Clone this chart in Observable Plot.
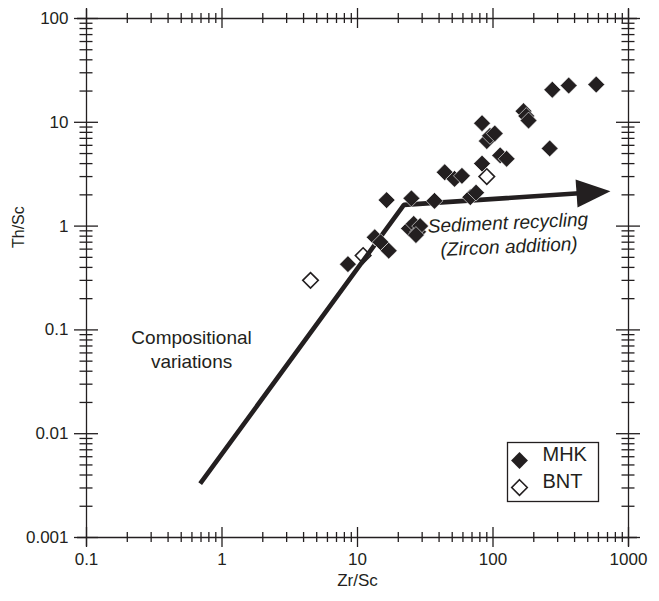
<!DOCTYPE html>
<html><head><meta charset="utf-8">
<script src="https://cdn.jsdelivr.net/npm/d3@7"></script>
<script src="https://cdn.jsdelivr.net/npm/@observablehq/plot@0.6"></script>
<style>html,body{margin:0;padding:0;background:#fff}</style>
</head><body><div id="chart"></div>
<script>
// ---- data ----
const mhkZr = [8.5, 13.4, 14.8, 17, 16.4, 25, 37, 24, 26, 28, 29, 27, 44, 52, 59, 68, 75, 83, 83, 90, 95, 103, 113, 126, 168, 176, 183, 262, 274, 362, 578];
const mhkTh = [0.43, 0.78, 0.70, 0.58, 1.78, 1.85, 1.75, 0.95, 1.05, 0.88, 1.0, 0.82, 3.3, 2.85, 3.05, 1.9, 2.1, 4.0, 9.8, 6.6, 7.4, 7.8, 4.8, 4.45, 12.8, 11.5, 10.4, 5.6, 20.6, 22.6, 23.1];
const bntZr = [4.5, 11, 90];
const bntTh = [0.30, 0.52, 3.0];
// trend line: compositional variations -> kink -> sediment recycling arrow
const trendZr = [0.69, 22, 560];
const trendTh = [0.0033, 1.6, 2.12];
const arrowTipZr = [736];
const arrowTipTh = [2.17];
// tick values
const xMajor = [0.1, 1, 10, 100, 1000];
const yMajor = [0.001, 0.01, 0.1, 1, 10, 100];
const minorMult = [2, 3, 4, 5, 6, 7, 8, 9];
const xMinor = [0.1, 1, 10, 100].flatMap(d => minorMult.map(m => +(d * m).toPrecision(3)));
const yMinor = [0.001, 0.01, 0.1, 1, 10].flatMap(d => minorMult.map(m => +(d * m).toPrecision(3)));
const legendNames = ["MHK", "BNT"];

const mhk = mhkZr.map((x, i) => ({x, y: mhkTh[i]}));
const bnt = bntZr.map((x, i) => ({x, y: bntTh[i]}));
const trend = trendZr.map((x, i) => ({x, y: trendTh[i]}));
const tip = arrowTipZr.map((x, i) => ({x, y: arrowTipTh[i]}));

const ink = "#231f20";
const font = "'Liberation Sans', Arial, Helvetica, sans-serif";
const R = 7.6;

const arrowHead = {
  draw(ctx) {
    ctx.moveTo(0, 0);
    ctx.lineTo(-34, -14);
    ctx.lineTo(-34, 14);
    ctx.closePath();
  }
};

const xMin = 0.1, xMax = 1000, yMin = 0.001, yMax = 100;

const chart = Plot.plot({
  width: 659,
  height: 601,
  marginLeft: 86,
  marginRight: 31,
  marginTop: 18,
  marginBottom: 64,
  style: {background: "#fff", color: ink, fontFamily: font},
  x: {type: "log", domain: [xMin, xMax]},
  y: {type: "log", domain: [yMin, yMax]},
  marks: [
    // axis lines (extend a little past the corners)
    Plot.ruleY([yMin, yMax], {stroke: ink, strokeWidth: 1.3, insetLeft: -9, insetRight: -9}),
    Plot.ruleX([xMin, xMax], {stroke: ink, strokeWidth: 1.3, insetTop: -9, insetBottom: -9}),
    // crossing ticks, bottom & top
    Plot.ruleX(xMajor, {y1: yMin, y2: yMin, insetTop: -10, insetBottom: -10, stroke: ink, strokeWidth: 1.3}),
    Plot.ruleX(xMinor, {y1: yMin, y2: yMin, insetTop: -5, insetBottom: -5, stroke: ink, strokeWidth: 1.3}),
    Plot.ruleX(xMajor, {y1: yMax, y2: yMax, insetTop: -10, insetBottom: -10, stroke: ink, strokeWidth: 1.3}),
    Plot.ruleX(xMinor, {y1: yMax, y2: yMax, insetTop: -5, insetBottom: -5, stroke: ink, strokeWidth: 1.3}),
    // crossing ticks, left & right
    Plot.ruleY(yMajor, {x1: xMin, x2: xMin, insetLeft: -12, insetRight: -12, stroke: ink, strokeWidth: 1.3}),
    Plot.ruleY(yMinor, {x1: xMin, x2: xMin, insetLeft: -6.5, insetRight: -6.5, stroke: ink, strokeWidth: 1.3}),
    Plot.ruleY(yMajor, {x1: xMax, x2: xMax, insetLeft: -12, insetRight: -12, stroke: ink, strokeWidth: 1.3}),
    Plot.ruleY(yMinor, {x1: xMax, x2: xMax, insetLeft: -6.5, insetRight: -6.5, stroke: ink, strokeWidth: 1.3}),
    // tick labels
    Plot.axisX({ticks: xMajor, anchor: "bottom", tickSize: 0, tickPadding: 15, tickFormat: d => String(d), fontSize: 17, label: null}),
    Plot.axisY({ticks: yMajor, anchor: "left", tickSize: 0, tickPadding: 18, tickFormat: d => String(d), fontSize: 17, label: null}),
    // axis titles
    Plot.text(["Zr/Sc"], {frameAnchor: "bottom", dy: 48, text: d => d, fontSize: 17, fill: ink}),
    Plot.text(["Th/Sc"], {frameAnchor: "left", dx: -68, dy: -30, rotate: -90, text: d => d, fontSize: 16, fill: ink}),
    // data
    Plot.dot(bnt, {x: "x", y: "y", symbol: "diamond2", r: R - 0.6, fill: "#fff", stroke: ink, strokeWidth: 1.6}),
    Plot.line(trend, {x: "x", y: "y", stroke: ink, strokeWidth: 4.6, strokeLinejoin: "miter", strokeLinecap: "butt"}),
    Plot.dot(tip, {x: "x", y: "y", symbol: arrowHead, rotate: -4, fill: ink, stroke: "none"}),
    Plot.dot(mhk, {x: "x", y: "y", symbol: "diamond2", r: R, fill: ink, stroke: "#fff", strokeWidth: 0.6}),
    // annotations
    Plot.text(["Sediment recycling"], {x: [33], y: [0.99], text: d => d, textAnchor: "start", rotate: -2.5, fontSize: 19, fontStyle: "italic", fill: ink}),
    Plot.text(["(Zircon addition)"], {x: [41], y: [0.59], text: d => d, textAnchor: "start", rotate: -2.5, fontSize: 19, fontStyle: "italic", fill: ink}),
    Plot.text(["Compositional\nvariations"], {x: [0.596], y: [0.0662], text: d => d, textAnchor: "middle", fontSize: 19, lineHeight: 1.27, fill: ink}),
    // legend
    Plot.frame({insetLeft: 421, insetRight: 30, insetTop: 424, insetBottom: 36, stroke: ink, strokeWidth: 1.3}),
    Plot.dot([legendNames[0]], {frameAnchor: "bottom-right", dx: -109, dy: -77, symbol: "diamond2", r: R, fill: ink}),
    Plot.dot([legendNames[1]], {frameAnchor: "bottom-right", dx: -109, dy: -50, symbol: "diamond2", r: R - 0.6, fill: "#fff", stroke: ink, strokeWidth: 1.6}),
    Plot.text([legendNames[0]], {frameAnchor: "bottom-right", dx: -86, dy: -77, text: d => d, textAnchor: "start", fontSize: 20, fill: ink}),
    Plot.text([legendNames[1]], {frameAnchor: "bottom-right", dx: -86, dy: -50, text: d => d, textAnchor: "start", fontSize: 20, fill: ink})
  ]
});
document.getElementById("chart").appendChild(chart);
</script>
</body></html>
